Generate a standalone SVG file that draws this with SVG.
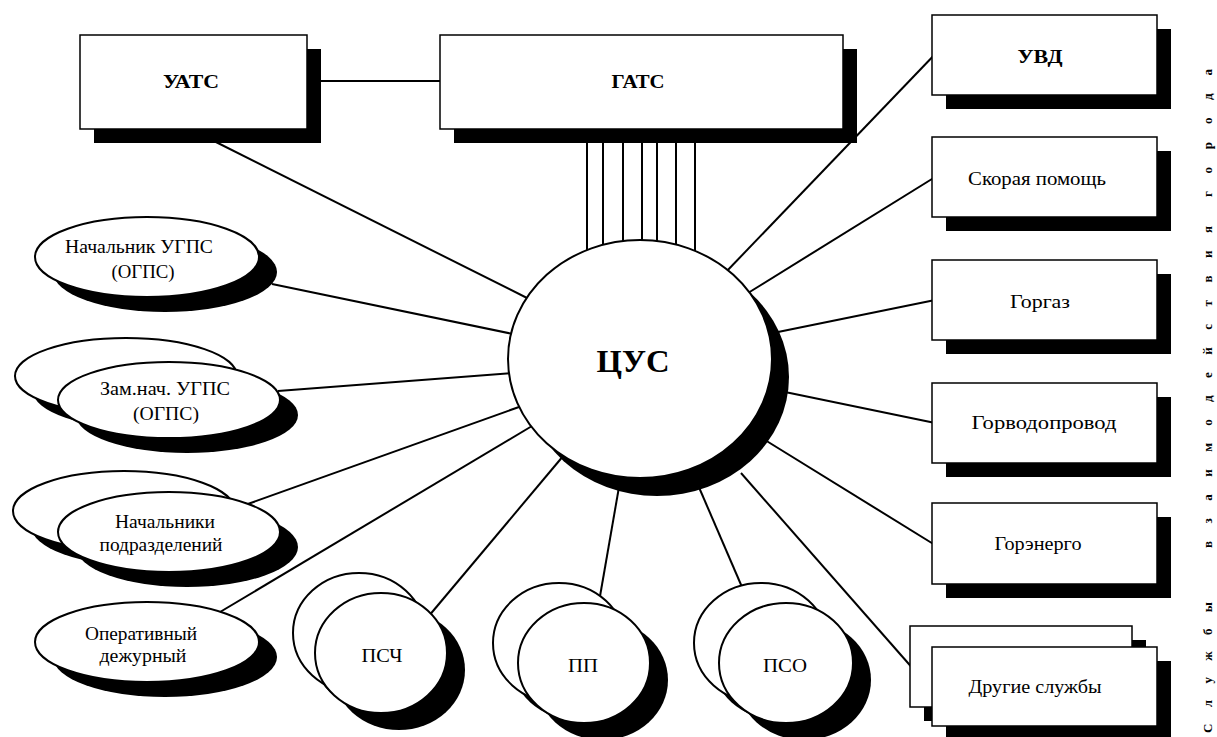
<svg xmlns="http://www.w3.org/2000/svg" width="1217" height="737" viewBox="0 0 1217 737">
<style>
.box{fill:#fff;stroke:#000;stroke-width:1.5}
.sh{fill:#000;stroke:none}
.ell{fill:#fff;stroke:#000;stroke-width:2}
.ln{stroke:#000;stroke-width:2;fill:none}
text{font-family:'Liberation Serif','DejaVu Serif','Times New Roman',serif;font-size:19px;fill:#000;text-anchor:middle}
.b{font-weight:bold}
.big{font-size:32px;font-weight:bold}
.vt{font-size:13px;font-weight:bold;text-anchor:start}
</style>
<rect width="1217" height="737" fill="#fff"/>
<g id="connectors">
<line class="ln" x1="307" y1="81" x2="440" y2="81"/>
<line class="ln" x1="190" y1="129" x2="535" y2="302"/>
<line class="ln" x1="587" y1="129" x2="587" y2="262"/>
<line class="ln" x1="603" y1="129" x2="603" y2="262"/>
<line class="ln" x1="623" y1="129" x2="623" y2="262"/>
<line class="ln" x1="642" y1="129" x2="642" y2="262"/>
<line class="ln" x1="657" y1="129" x2="657" y2="262"/>
<line class="ln" x1="676" y1="129" x2="676" y2="262"/>
<line class="ln" x1="695" y1="129" x2="695" y2="262"/>
<line class="ln" x1="725" y1="273" x2="940" y2="49"/>
<line class="ln" x1="748" y1="293" x2="940" y2="174"/>
<line class="ln" x1="778" y1="332" x2="940" y2="299"/>
<line class="ln" x1="785" y1="392" x2="940" y2="424"/>
<line class="ln" x1="765" y1="440" x2="935" y2="545"/>
<line class="ln" x1="741" y1="473" x2="915" y2="671"/>
<line class="ln" x1="698" y1="485" x2="745" y2="594"/>
<line class="ln" x1="619" y1="487" x2="599" y2="602"/>
<line class="ln" x1="564" y1="455" x2="428" y2="617"/>
<line class="ln" x1="532" y1="426" x2="215" y2="615"/>
<line class="ln" x1="519" y1="407" x2="245" y2="505"/>
<line class="ln" x1="512" y1="373" x2="278" y2="391"/>
<line class="ln" x1="513" y1="334" x2="272" y2="284"/>
</g>
<g id="uats">
<rect class="sh" x="94" y="49" width="227" height="94"/>
<rect class="box" x="80" y="35" width="227" height="94"/>
<text class="b" x="191" y="88" textLength="56" lengthAdjust="spacingAndGlyphs">УАТС</text>
</g>
<g id="gats">
<rect class="sh" x="454" y="49" width="403" height="94"/>
<rect class="box" x="440" y="35" width="403" height="94"/>
<text class="b" x="638" y="88" textLength="53" lengthAdjust="spacingAndGlyphs">ГАТС</text>
</g>
<g id="cus">
<ellipse class="sh" cx="657" cy="377" rx="132" ry="119"/>
<ellipse class="ell" cx="640" cy="359" rx="132" ry="119"/>
<text class="big" x="633" y="372" textLength="73" lengthAdjust="spacingAndGlyphs">ЦУС</text>
</g>
<g id="uvd">
<rect class="sh" x="946" y="29" width="225" height="80"/>
<rect class="box" x="932" y="15" width="225" height="80"/>
<text class="b" x="1040" y="63" textLength="45" lengthAdjust="spacingAndGlyphs">УВД</text>
</g>
<g id="skoraya">
<rect class="sh" x="946" y="151" width="225" height="80"/>
<rect class="box" x="932" y="137" width="225" height="80"/>
<text x="1037" y="185" textLength="138" lengthAdjust="spacingAndGlyphs">Скорая помощь</text>
</g>
<g id="gorgaz">
<rect class="sh" x="946" y="274" width="225" height="80"/>
<rect class="box" x="932" y="260" width="225" height="80"/>
<text x="1040" y="308" textLength="60" lengthAdjust="spacingAndGlyphs">Горгаз</text>
</g>
<g id="gorvodoprovod">
<rect class="sh" x="946" y="397" width="225" height="80"/>
<rect class="box" x="932" y="383" width="225" height="80"/>
<text x="1044" y="429" textLength="145" lengthAdjust="spacingAndGlyphs">Горводопровод</text>
</g>
<g id="gorenergo">
<rect class="sh" x="946" y="517" width="225" height="81"/>
<rect class="box" x="932" y="503" width="225" height="81"/>
<text x="1038" y="550" textLength="87" lengthAdjust="spacingAndGlyphs">Горэнерго</text>
</g>
<g id="drugie">
<rect class="sh" x="924" y="640" width="222" height="81"/>
<rect class="box" x="910" y="626" width="222" height="81"/>
<rect class="sh" x="946" y="661" width="225" height="79"/>
<rect class="box" x="932" y="647" width="225" height="79"/>
<text x="1035" y="693" textLength="133" lengthAdjust="spacingAndGlyphs">Другие службы</text>
</g>
<g id="nach-ugps">
<ellipse class="sh" cx="165" cy="272" rx="112" ry="40"/>
<ellipse class="ell" cx="147" cy="257" rx="112" ry="40"/>
<text x="139" y="253" textLength="148" lengthAdjust="spacingAndGlyphs">Начальник УГПС</text>
<text x="143" y="278" textLength="63" lengthAdjust="spacingAndGlyphs">(ОГПС)</text>
</g>
<g id="zam-nach">
<ellipse class="sh" cx="144" cy="391" rx="111" ry="38"/>
<ellipse class="ell" cx="126" cy="376" rx="111" ry="38"/>
<ellipse class="sh" cx="187" cy="415" rx="111" ry="38"/>
<ellipse class="ell" cx="169" cy="400" rx="111" ry="38"/>
<text x="165" y="395" textLength="130" lengthAdjust="spacingAndGlyphs">Зам.нач. УГПС</text>
<text x="166" y="420" textLength="66" lengthAdjust="spacingAndGlyphs">(ОГПС)</text>
</g>
<g id="nach-podr">
<ellipse class="sh" cx="142" cy="526" rx="111" ry="40"/>
<ellipse class="ell" cx="124" cy="511" rx="111" ry="40"/>
<ellipse class="sh" cx="187" cy="547" rx="111" ry="40"/>
<ellipse class="ell" cx="169" cy="532" rx="111" ry="40"/>
<text x="165" y="528" textLength="100" lengthAdjust="spacingAndGlyphs">Начальники</text>
<text x="161" y="551" textLength="123" lengthAdjust="spacingAndGlyphs">подразделений</text>
</g>
<g id="oper">
<ellipse class="sh" cx="165" cy="657" rx="112" ry="40"/>
<ellipse class="ell" cx="147" cy="642" rx="112" ry="40"/>
<text x="141" y="640" textLength="112" lengthAdjust="spacingAndGlyphs">Оперативный</text>
<text x="143" y="662" textLength="87" lengthAdjust="spacingAndGlyphs">дежурный</text>
</g>
<g id="psch">
<ellipse class="sh" cx="377" cy="650" rx="66" ry="60"/>
<ellipse class="ell" cx="359" cy="633" rx="66" ry="60"/>
<ellipse class="sh" cx="399" cy="670" rx="66" ry="60"/>
<ellipse class="ell" cx="381" cy="653" rx="66" ry="60"/>
<text x="382" y="662" textLength="41" lengthAdjust="spacingAndGlyphs">ПСЧ</text>
</g>
<g id="pp">
<ellipse class="sh" cx="577" cy="660" rx="66" ry="60"/>
<ellipse class="ell" cx="559" cy="643" rx="66" ry="60"/>
<ellipse class="sh" cx="602" cy="680" rx="66" ry="60"/>
<ellipse class="ell" cx="584" cy="663" rx="66" ry="60"/>
<text x="583" y="672" textLength="30" lengthAdjust="spacingAndGlyphs">ПП</text>
</g>
<g id="pso">
<ellipse class="sh" cx="779" cy="660" rx="67" ry="60"/>
<ellipse class="ell" cx="761" cy="643" rx="67" ry="60"/>
<ellipse class="sh" cx="804" cy="680" rx="67" ry="60"/>
<ellipse class="ell" cx="786" cy="663" rx="67" ry="60"/>
<text x="785" y="672" textLength="44" lengthAdjust="spacingAndGlyphs">ПСО</text>
</g>
<g id="side-label">
<text class="vt" transform="translate(1212,733) rotate(-90)" x="0" y="0" textLength="131" lengthAdjust="spacing">Службы</text>
<text class="vt" transform="translate(1212,548) rotate(-90)" x="0" y="0" textLength="322" lengthAdjust="spacing">взаимодействия</text>
<text class="vt" transform="translate(1212,197) rotate(-90)" x="0" y="0" textLength="128" lengthAdjust="spacing">города</text>
</g>
</svg>
